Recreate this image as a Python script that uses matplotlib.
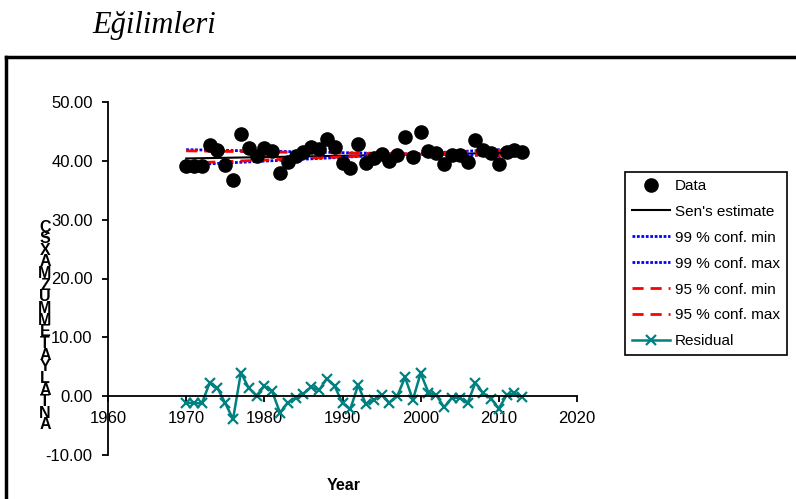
import numpy as np
import matplotlib.pyplot as plt
from matplotlib.lines import Line2D

# veriler
years = list(range(1970, 2014))
data = [39.2, 39.1, 39.2, 42.7, 41.9, 39.3, 36.7, 44.5, 42.1, 40.8,
        42.1, 41.6, 38.0, 39.8, 40.8, 41.5, 42.4, 42.0, 43.7, 42.4,
        39.6, 38.8, 42.8, 39.7, 40.4, 41.2, 39.9, 41.0, 44.1, 40.7,
        44.9, 41.7, 41.3, 39.5, 41.0, 41.0, 39.8, 43.6, 41.9, 41.3,
        39.5, 41.5, 41.9, 41.5]
residual = [-1.1, -1.2, -1.2, 2.2, 1.4, -1.2, -3.9, 4.0, 1.4, 0.1,
            1.7, 0.8, -2.8, -1.1, -0.3, 0.4, 1.6, 1.0, 3.0, 1.7,
            -1.2, -2.2, 1.9, -1.4, -0.6, 0.2, -1.1, 0.0, 3.2, -0.6,
            3.9, 0.6, 0.2, -1.9, -0.3, -0.3, -1.2, 2.3, 0.5, -0.4,
            -2.1, 0.2, 0.5, -0.1]
line_years = [1970, 2013]
sen = [40.4, 41.4]
conf99_min = [41.9, 40.8]
conf99_max = [39.3, 42.1]
conf95_min = [41.7, 40.9]
conf95_max = [39.6, 41.9]

ylabel_letters = list("ÇSXAMZUMMETAYLATNA")

fig = plt.figure(figsize=(7.96, 4.99), dpi=100)
ax = fig.add_axes([108/796, 1-455/499, (577-108)/796, (455-102)/499])

ax.plot(line_years, sen, color="black", lw=1.5, label="Sen's estimate")
ax.plot(line_years, conf99_min, color="blue", lw=2, ls=(0, (1, 0.6)), label="99 % conf. min")
ax.plot(line_years, conf99_max, color="blue", lw=2, ls=(0, (1, 0.6)), label="99 % conf. max")
ax.plot(line_years, conf95_min, color="red", lw=2, ls=(0, (4, 2.5)), label="95 % conf. min")
ax.plot(line_years, conf95_max, color="red", lw=2, ls=(0, (4, 2.5)), label="95 % conf. max")
ax.plot(years, residual, color="#008080", lw=1.8, marker="x", ms=7, mew=1.6, label="Residual")
ax.plot(years, data, "o", color="black", ms=9.5, label="Data", zorder=5)

ax.set_xlim(1960, 2020)
ax.set_ylim(-10, 50)
ax.set_xticks(range(1960, 2021, 10))
ax.set_yticks(range(-10, 51, 10))
ax.set_yticklabels(["%.2f" % v for v in range(-10, 51, 10)])
ax.spines["top"].set_visible(False)
ax.spines["right"].set_visible(False)
ax.spines["bottom"].set_position(("data", 0))
ax.spines["bottom"].set_linewidth(1.3)
ax.spines["left"].set_linewidth(1.3)
ax.tick_params(axis="both", direction="out", length=4, width=1.3, labelsize=12, pad=7)
for lab in ax.get_xticklabels() + ax.get_yticklabels():
    lab.set_family("Liberation Sans")

ax.set_xlabel("Year", fontsize=11.5, fontweight="bold", family="Liberation Sans")
ax.xaxis.set_label_coords((344-108)/469, (455-478)/353)

fig.text(45/796, 1-326/499, "\n".join(ylabel_letters), ha="center", va="center",
         fontsize=11.5, fontweight="bold", family="Liberation Sans", linespacing=0.72)

fig.text(154/796, 1-25/499, "Eğilimleri", ha="center", va="center",
         fontsize=22, style="italic", family="Liberation Serif")

# leyenda
handles, labels = ax.get_legend_handles_labels()
order = [6, 0, 1, 2, 3, 4, 5]
leg = fig.legend([handles[i] for i in order], [labels[i] for i in order],
                 loc="upper left", bbox_to_anchor=(625/796, 1-172/499),
                 borderaxespad=0, fancybox=False, framealpha=1, edgecolor="black",
                 prop={"family": "Liberation Sans", "size": 11},
                 handlelength=2.5, handletextpad=0.3, labelspacing=0.78,
                 borderpad=0.45)
leg.get_frame().set_linewidth(1.2)

# marco exterior
fig.add_artist(Line2D([6/796, 1], [1-57/499, 1-57/499], color="black", lw=2.5))
fig.add_artist(Line2D([6/796, 6/796], [0, 1-57/499], color="black", lw=2.5))

fig.savefig("out.png", dpi=100)
